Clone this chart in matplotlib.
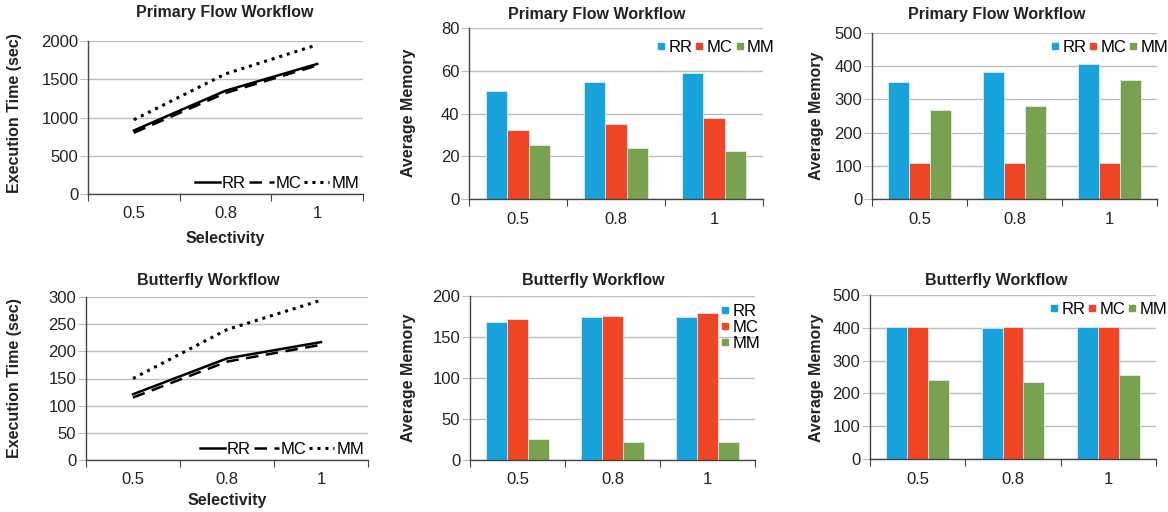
import numpy as np
import matplotlib
matplotlib.use("Agg")
import matplotlib.pyplot as plt
from matplotlib.lines import Line2D

plt.rcParams['font.family'] = ['Liberation Sans', 'DejaVu Sans']

# ======================= DATA =========================
categories = ['0.5', '0.8', '1']
series = ['RR', 'MC', 'MM']

# execution time (line charts)
pf_time_rr = [830, 1350, 1700]
pf_time_mc = [800, 1320, 1680]
pf_time_mm = [970, 1570, 1950]
bf_time_rr = [121, 187, 217]
bf_time_mc = [115, 181, 212]
bf_time_mm = [150, 240, 294]

# average memory (bar charts)
pf_mem1_rr = [50.3, 54.6, 58.8]
pf_mem1_mc = [32.4, 35.1, 37.8]
pf_mem1_mm = [25.3, 23.9, 22.6]
pf_mem2_rr = [352, 384, 406]
pf_mem2_mc = [107, 107, 107]
pf_mem2_mm = [268, 281, 357]
bf_mem1_rr = [168, 175, 175]
bf_mem1_mc = [172, 175.5, 179]
bf_mem1_mm = [25.5, 22, 22.5]
bf_mem2_rr = [403, 400, 402]
bf_mem2_mc = [403, 402, 402]
bf_mem2_mm = [242, 235, 255]

# ======================= STYLE =========================
colors = {'RR': '#18A2DC', 'MC': '#EE4524', 'MM': '#78A150'}
line_styles = {'RR': '-', 'MC': (0, (5, 3)), 'MM': (0, (1, 1.6))}
W, H = 1168, 512
text_col = '#222222'


def px_axes(fig, left, top, right, bottom):
    return fig.add_axes([left / W, 1 - bottom / H, (right - left) / W, (bottom - top) / H])


def style_axes(ax, ymax, ystep):
    ax.set_xlim(-0.5, 2.5)
    ax.set_ylim(0, ymax)
    ax.set_yticks(np.arange(0, ymax + 1, ystep))
    ax.yaxis.grid(True, color='#BDBDBD', linewidth=1)
    ax.set_axisbelow(True)
    for s in ['top', 'right']:
        ax.spines[s].set_visible(False)
    for s in ['left', 'bottom']:
        ax.spines[s].set_color('#444444')
        ax.spines[s].set_linewidth(1)
    ax.set_xticks([-0.5, 0.5, 1.5, 2.5])
    ax.set_xticklabels([])
    ax.set_xticks([0, 1, 2], minor=True)
    ax.set_xticklabels(categories, minor=True)
    ax.tick_params(axis='x', which='major', length=5, color='#444444')
    ax.tick_params(axis='x', which='minor', length=0, pad=9, labelsize=12, labelcolor=text_col)
    ax.tick_params(axis='y', length=6, color='#BDBDBD', labelsize=12, labelcolor=text_col, pad=1)


def line_panel(ax, rr, mc, mm, ymax, ystep):
    x = np.arange(len(categories))
    for name, vals in zip(series, [rr, mc, mm]):
        ax.plot(x, vals, color='black', linestyle=line_styles[name],
                linewidth=1.8 if name != 'MM' else 2.2, label=name)
    style_axes(ax, ymax, ystep)
    ax.legend(loc='lower right', ncol=3, frameon=False, fontsize=12,
              handlelength=1.5, handletextpad=0.15, columnspacing=0.15,
              borderaxespad=0.1, borderpad=0.1)


def bar_panel(ax, rr, mc, mm, ymax, ystep, legend_y, vertical_legend=False):
    x = np.arange(len(categories))
    w = 0.22
    for i, (name, vals) in enumerate(zip(series, [rr, mc, mm])):
        ax.bar(x + (i - 1) * w, vals, width=w, color=colors[name],
               edgecolor='#E8F4FA', linewidth=0.5, label=name)
    style_axes(ax, ymax, ystep)
    handles = [Line2D([], [], marker='s', linestyle='none', markersize=5,
                      color=colors[n]) for n in series]
    if vertical_legend:
        ax.legend(handles, series, loc='upper right', ncol=1, frameon=False, fontsize=12,
                  handlelength=0.5, handletextpad=0.2, labelspacing=0.05,
                  borderaxespad=0.0, borderpad=0.0, bbox_to_anchor=(1.02, legend_y))
    else:
        ax.legend(handles, series, loc='upper right', ncol=3, frameon=False, fontsize=12,
                  handlelength=0.5, handletextpad=0.2, columnspacing=0.15,
                  borderaxespad=0.0, borderpad=0.0, bbox_to_anchor=(1.04, legend_y))


fig = plt.figure(figsize=(W / 100, H / 100), dpi=100)

ax1 = px_axes(fig, 88, 41, 363, 194)
line_panel(ax1, pf_time_rr, pf_time_mc, pf_time_mm, 2000, 500)
ax2 = px_axes(fig, 469, 28, 763, 199)
bar_panel(ax2, pf_mem1_rr, pf_mem1_mc, pf_mem1_mm, 80, 20, 0.93)
ax3 = px_axes(fig, 872, 33, 1157, 199)
bar_panel(ax3, pf_mem2_rr, pf_mem2_mc, pf_mem2_mm, 500, 100, 0.96)
ax4 = px_axes(fig, 86, 297, 368, 460)
line_panel(ax4, bf_time_rr, bf_time_mc, bf_time_mm, 300, 50)
ax5 = px_axes(fig, 470, 296, 755, 460)
bar_panel(ax5, bf_mem1_rr, bf_mem1_mc, bf_mem1_mm, 200, 50, 0.95, vertical_legend=True)
ax6 = px_axes(fig, 870, 295, 1156, 459)
bar_panel(ax6, bf_mem2_rr, bf_mem2_mc, bf_mem2_mm, 500, 100, 0.96)

# titles and axis labels (pixel positions)
titles = [('Primary Flow Workflow', 225, 13), ('Primary Flow Workflow', 597, 14),
          ('Primary Flow Workflow', 997, 14), ('Butterfly Workflow', 208, 281),
          ('Butterfly Workflow', 593, 280), ('Butterfly Workflow', 996, 280)]
for t, x, y in titles:
    fig.text(x / W, 1 - y / H, t, ha='center', va='center', fontsize=11.5,
             fontweight='bold', color=text_col)

ylabels = [('Execution Time (sec)', 15, 113), ('Average Memory', 409, 113),
           ('Average Memory', 817, 116), ('Execution Time (sec)', 15, 378),
           ('Average Memory', 409, 378), ('Average Memory', 817, 378)]
for t, x, y in ylabels:
    fig.text(x / W, 1 - y / H, t, ha='center', va='center', rotation=90,
             fontsize=11.5, fontweight='bold', color=text_col)

for x, y in [(225, 238), (227, 500)]:
    fig.text(x / W, 1 - y / H, 'Selectivity', ha='center', va='center',
             fontsize=11.5, fontweight='bold', color=text_col)

fig.savefig('out.png', dpi=100, facecolor='white')
